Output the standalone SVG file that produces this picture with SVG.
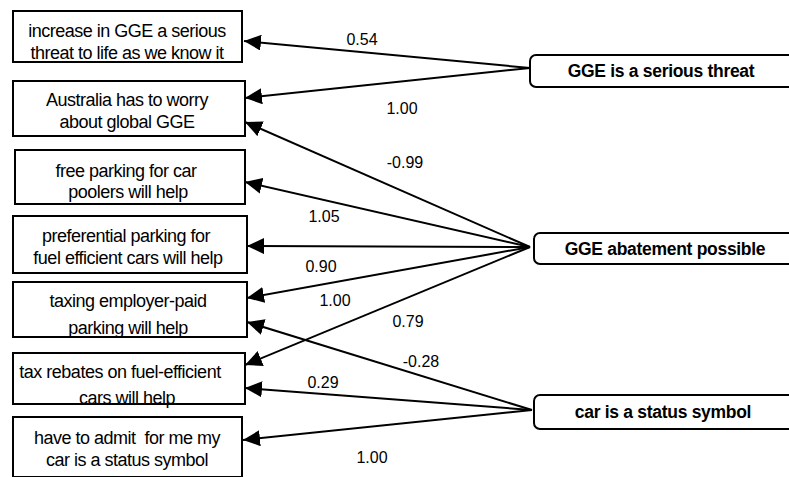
<svg xmlns="http://www.w3.org/2000/svg" width="789" height="477" viewBox="0 0 789 477">
<style>
.box{fill:#fff;stroke:#000;stroke-width:2}
.lat{fill:#fff;stroke:#000;stroke-width:2}
.t{font-family:"Liberation Sans",Arial,sans-serif;font-size:18px;text-anchor:middle;fill:#000;letter-spacing:-0.5px}
.b{font-family:"Liberation Sans",Arial,sans-serif;font-size:17.5px;font-weight:bold;text-anchor:middle;fill:#000;letter-spacing:-0.3px}
.l{font-family:"Liberation Sans",Arial,sans-serif;font-size:16px;text-anchor:middle;fill:#000}
.c{stroke:#000;stroke-width:2;fill:none;marker-end:url(#ah)}
</style>
<defs>
<marker id="ah" markerUnits="userSpaceOnUse" markerWidth="18" markerHeight="16" refX="17" refY="8" orient="auto">
<path d="M0,0 L17,8 L0,16 z" fill="#000"/>
</marker>
</defs>
<rect width="789" height="477" fill="#fff"/>
<g id="connectors">
<line class="c" x1="530" y1="68" x2="244" y2="41"/>
<line class="c" x1="530" y1="68" x2="245" y2="98"/>
<line class="c" x1="530" y1="247" x2="245" y2="122"/>
<line class="c" x1="530" y1="247" x2="245" y2="182"/>
<line class="c" x1="530" y1="247" x2="247" y2="246"/>
<line class="c" x1="530" y1="247" x2="247" y2="298"/>
<line class="c" x1="530" y1="247" x2="245" y2="365"/>
<line class="c" x1="532" y1="410" x2="247" y2="322"/>
<line class="c" x1="532" y1="410" x2="245" y2="388"/>
<line class="c" x1="532" y1="410" x2="243" y2="440"/>
<text class="l" x="362" y="45">0.54</text>
<text class="l" x="402" y="114">1.00</text>
<text class="l" x="405" y="168">-0.99</text>
<text class="l" x="324" y="222">1.05</text>
<text class="l" x="321" y="272">0.90</text>
<text class="l" x="335" y="306">1.00</text>
<text class="l" x="408" y="327">0.79</text>
<text class="l" x="421" y="367">-0.28</text>
<text class="l" x="323" y="388">0.29</text>
<text class="l" x="372" y="463">1.00</text>
</g>
<g id="n1"><rect class="box" x="13" y="11" width="229" height="51"/>
<text class="t" x="127" y="37">increase in GGE a serious</text>
<text class="t" x="127" y="59">threat to life as we know it</text></g>
<g id="n2"><rect class="box" x="13" y="81" width="232" height="55"/>
<text class="t" x="127" y="106">Australia has to worry</text>
<text class="t" x="127" y="128">about global GGE</text></g>
<g id="n3"><rect class="box" x="15" y="150" width="230" height="54"/>
<text class="t" x="126" y="177">free parking for car</text>
<text class="t" x="128" y="198">poolers will help</text></g>
<g id="n4"><rect class="box" x="13" y="216" width="234" height="57"/>
<text class="t" x="126" y="242">preferential parking for</text>
<text class="t" x="128" y="264">fuel efficient cars will help</text></g>
<g id="n5"><rect class="box" x="13" y="282" width="234" height="55"/>
<text class="t" x="128" y="307">taxing employer-paid</text>
<text class="t" x="128" y="334">parking will help</text></g>
<g id="n6"><rect class="box" x="13" y="353" width="232" height="51"/>
<text class="t" x="120" y="378">tax rebates on fuel-efficient</text>
<text class="t" x="127" y="404">cars will help</text></g>
<g id="n7"><rect class="box" x="13" y="417" width="229" height="60"/>
<text class="t" x="127" y="444" xml:space="preserve">have to admit  for me my</text>
<text class="t" x="127" y="466">car is a status symbol</text></g>
<g id="f1"><rect class="lat" x="530" y="55" width="280" height="32" rx="6"/>
<text class="b" x="661" y="77">GGE is a serious threat</text></g>
<g id="f2"><rect class="lat" x="534" y="233" width="276" height="31" rx="6"/>
<text class="b" x="665" y="255">GGE abatement possible</text></g>
<g id="f3"><rect class="lat" x="534" y="395" width="276" height="34" rx="6"/>
<text class="b" x="663" y="418">car is a status symbol</text></g>
</svg>
